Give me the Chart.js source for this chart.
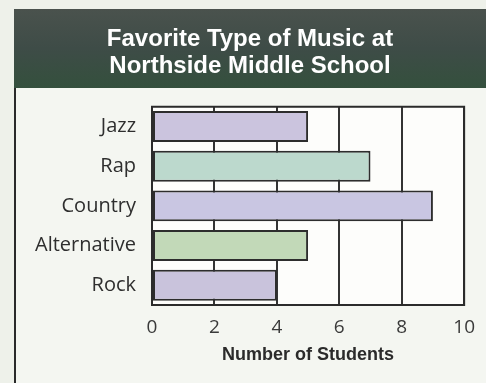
<!DOCTYPE html>
<html>
<head>
<meta charset="utf-8">
<script src="https://cdn.jsdelivr.net/npm/chart.js@4"></script>
<style>
  html, body { margin: 0; padding: 0; background: #f3f5f1; }
  #wrap { width: 486px; height: 383px; position: relative; }
</style>
</head>
<body>
<div id="wrap"><canvas id="c" width="486" height="383"></canvas></div>
<script>
const titleLines = ["Favorite Type of Music at", "Northside Middle School"];
const categories = ["Jazz", "Rap", "Country", "Alternative", "Rock"];
const students = [5, 7, 9, 5, 4];
const barColors = ["#cbc4de", "#bcd9cd", "#c9c6e2", "#c2d9b8", "#c9c3dc"];
const xTicks = [0, 2, 4, 6, 8, 10];
const xTitle = "Number of Students";

const framePlugin = {
  id: 'frame',
  beforeDraw(chart) {
    const ctx = chart.ctx;
    const ca = chart.chartArea;
    ctx.save();
    ctx.fillStyle = '#eef1ea';
    ctx.fillRect(0, 0, chart.width, chart.height);
    ctx.fillStyle = '#f4f6f1';
    ctx.fillRect(14, 88, chart.width - 14, chart.height - 88);
    ctx.strokeStyle = '#2a2a2a';
    ctx.lineWidth = 2;
    ctx.beginPath();
    ctx.moveTo(15, 88);
    ctx.lineTo(15, chart.height);
    ctx.stroke();
    const g = ctx.createLinearGradient(0, 9, 0, 88);
    g.addColorStop(0, '#4a524d');
    g.addColorStop(0.5, '#3e4c47');
    g.addColorStop(1, '#34503d');
    ctx.fillStyle = g;
    ctx.fillRect(14, 9, chart.width - 14, 79);
    ctx.fillStyle = '#fdfdfb';
    ctx.fillRect(ca.left, ca.top, ca.right - ca.left, ca.bottom - ca.top);
    ctx.restore();
  },
  afterDatasetsDraw(chart) {
    const ctx = chart.ctx;
    const ca = chart.chartArea;
    ctx.save();
    ctx.strokeStyle = '#2b2b2b';
    ctx.lineWidth = 2;
    ctx.strokeRect(ca.left, ca.top, ca.right - ca.left, ca.bottom - ca.top);
    ctx.restore();
  }
};

new Chart(document.getElementById('c'), {
  type: 'bar',
  data: {
    labels: categories,
    datasets: [{
      data: students,
      backgroundColor: barColors,
      borderColor: '#2d2d2d',
      borderWidth: 2,
      borderSkipped: false,
      barPercentage: 0.78,
      categoryPercentage: 1.0
    }]
  },
  options: {
    indexAxis: 'y',
    responsive: false,
    animation: false,
    devicePixelRatio: 1,
    layout: { padding: { left: 34, right: 20, top: 0, bottom: 0 } },
    plugins: {
      legend: { display: false },
      tooltip: { enabled: false },
      title: {
        display: true,
        text: titleLines,
        color: '#ffffff',
        font: { family: "'Liberation Sans', Arial, sans-serif", size: 24, weight: 'bold', lineHeight: 1.12 },
        padding: { top: 26, bottom: 27 }
      }
    },
    scales: {
      x: {
        min: 0, max: 10,
        afterBuildTicks(scale) { scale.ticks = xTicks.map(v => ({ value: v })); },
        afterFit(scale) { scale.height = 78; },
        grid: { color: '#333333', lineWidth: 2, drawTicks: false },
        border: { display: true, color: '#2b2b2b', width: 2 },
        ticks: { color: '#3a3a3a', padding: 11, font: { family: "'Open Sans', 'Noto Sans', sans-serif", size: 19 } },
        title: {
          display: true, text: xTitle, color: '#2b2b2b',
          font: { family: "'Liberation Sans', Arial, sans-serif", size: 18, weight: 'bold', lineHeight: 1.2 },
          padding: { top: 0, bottom: 17 }
        }
      },
      y: {
        afterFit(scale) { scale.width = 118; },
        grid: { display: false, drawTicks: false },
        border: { display: true, color: '#2b2b2b', width: 2 },
        ticks: { color: '#2e2e2e', padding: 16, font: { family: "'Open Sans', 'Noto Sans', sans-serif", size: 20 } }
      }
    }
  },
  plugins: [framePlugin]
});
</script>
</body>
</html>
